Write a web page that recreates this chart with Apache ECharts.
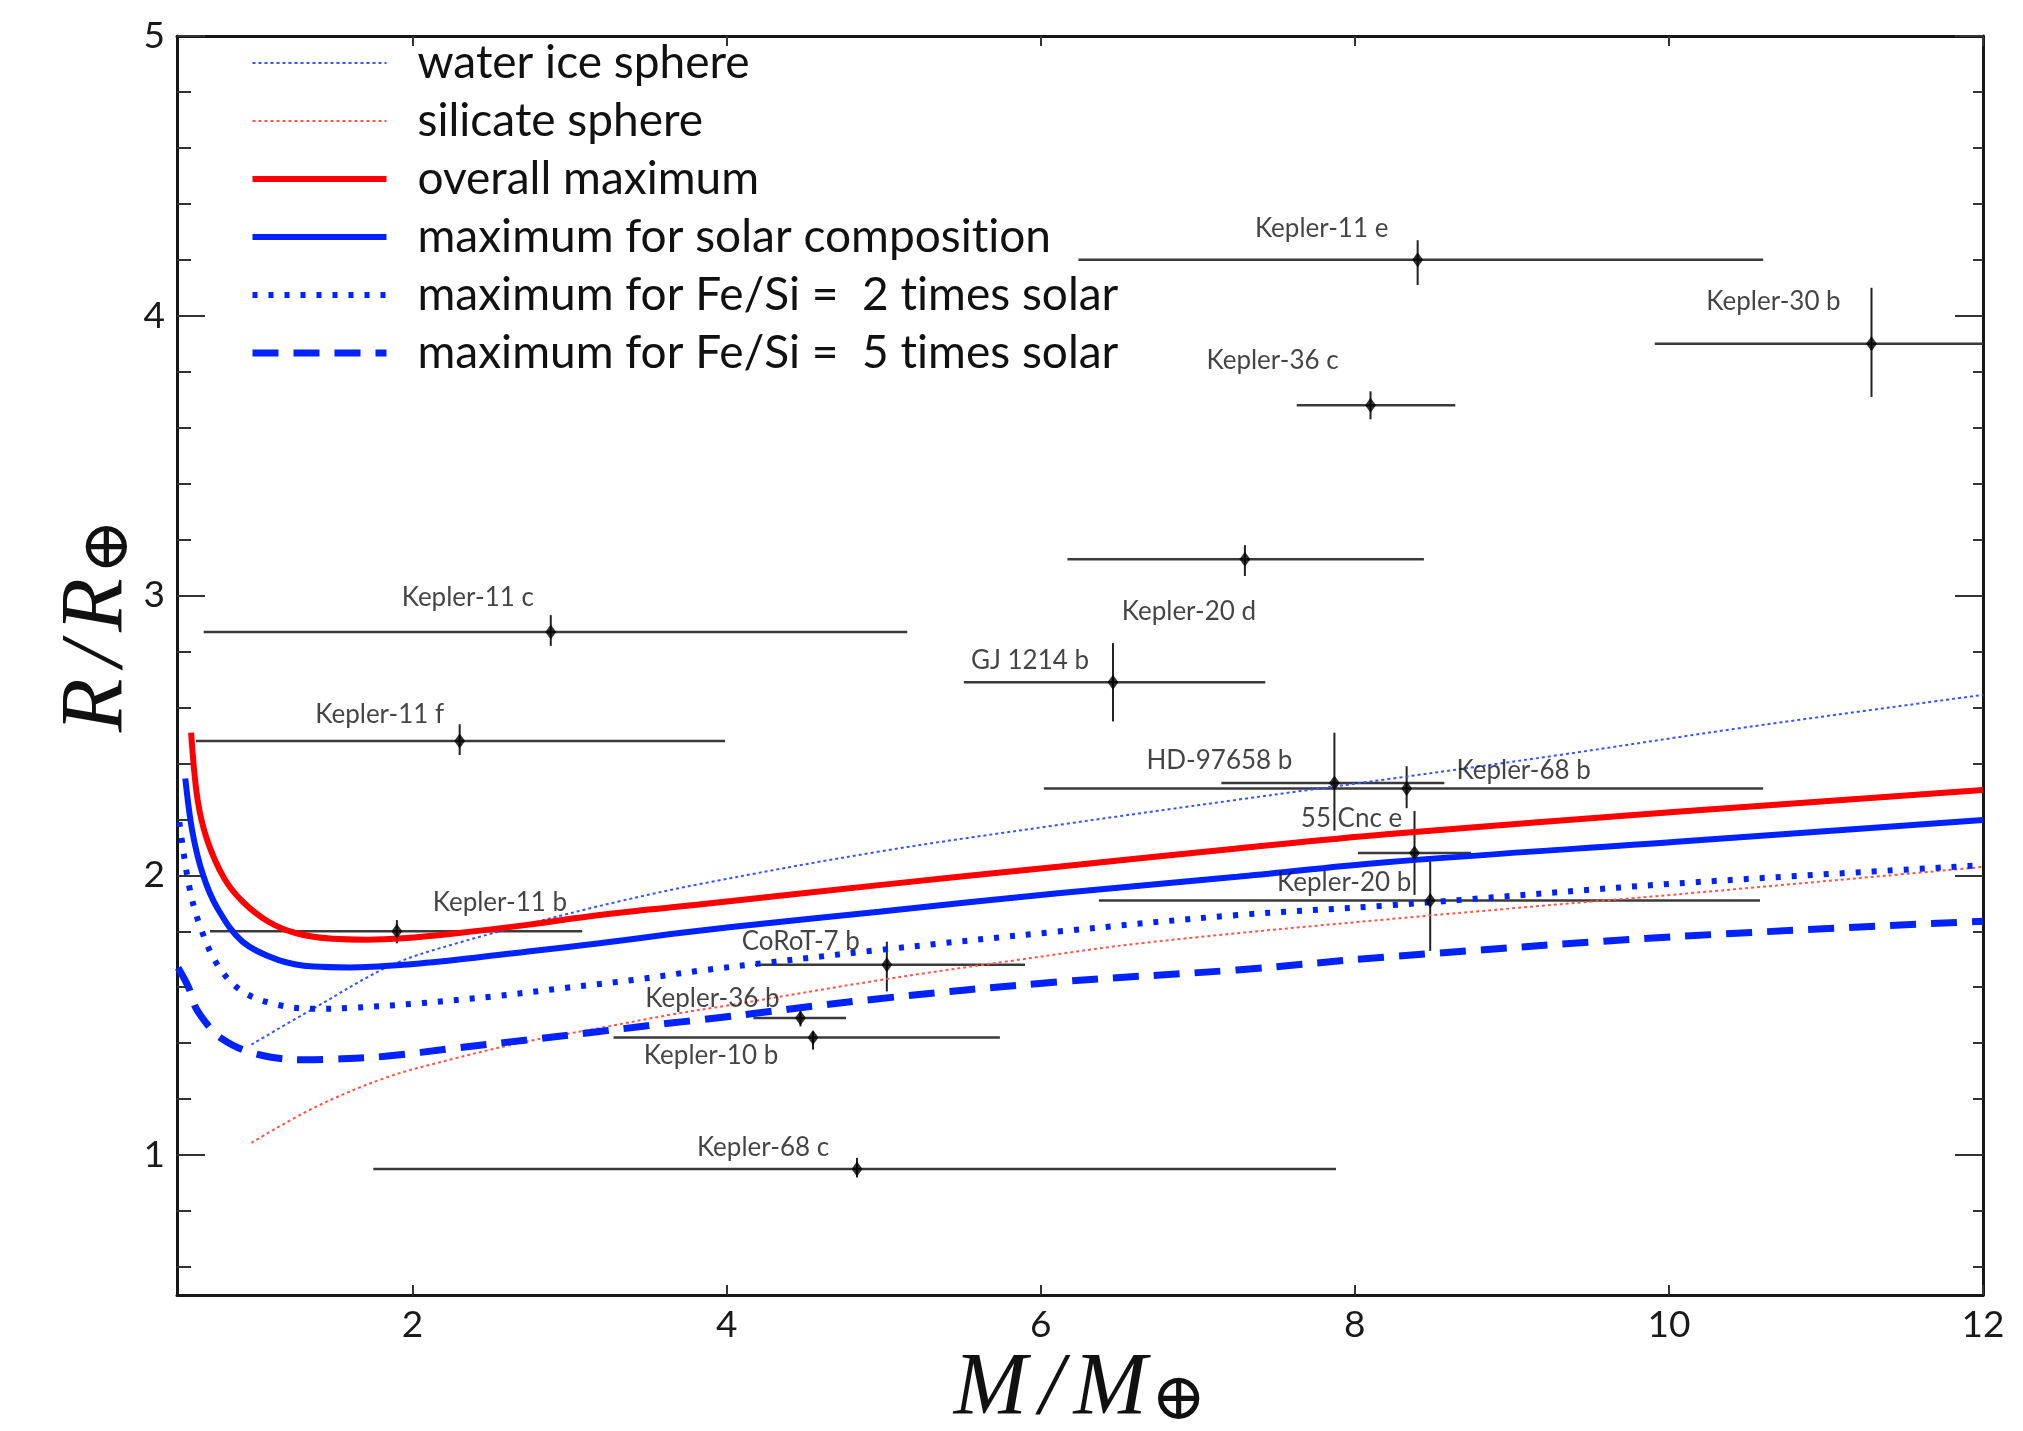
<!DOCTYPE html>
<html>
<head>
<meta charset="utf-8">
<title>Mass-radius diagram</title>
<script src="https://cdn.jsdelivr.net/npm/echarts@6.0.0/dist/echarts.min.js"></script>
<style>
  html, body { margin: 0; padding: 0; background: #fff; }
  #chart { width: 2023px; height: 1431px; }
</style>
</head>
<body>
<div id="chart"></div>
<script>
// ---- data (mass in M_earth, radius in R_earth) ----
const xTicks = [2, 4, 6, 8, 10, 12];
const yTicks = [1, 2, 3, 4, 5];
const yMinorTicks = [0.6, 0.8, 1.2, 1.4, 1.6, 1.8, 2.2, 2.4, 2.6, 2.8, 3.2, 3.4, 3.6, 3.8, 4.2, 4.4, 4.6, 4.8];

const waterX = [0.974, 1.372, 1.87, 2.3, 2.8, 3.3, 3.84, 4.97, 6.11, 7.25, 8.29, 9.3, 10.5, 12.0];
const waterY = [1.395, 1.525, 1.68, 1.76, 1.835, 1.905, 1.97, 2.085, 2.18, 2.27, 2.35, 2.43, 2.53, 2.645];

const silicateX = [0.974, 1.372, 1.826, 2.28, 2.735, 3.19, 3.645, 4.03, 4.97, 5.82, 6.68, 8.29, 10.05, 12.0];
const silicateY = [1.044, 1.169, 1.276, 1.347, 1.407, 1.454, 1.502, 1.537, 1.625, 1.695, 1.76, 1.847, 1.932, 2.03];

const overallX = [0.59, 0.63, 0.69, 0.80, 0.92, 1.08, 1.26, 1.49, 1.71, 1.94, 2.28, 2.73, 3.19, 3.65, 4.03, 4.97, 6.11, 7.25, 8.20, 10.05, 12.0];
const overallY = [2.51, 2.275, 2.13, 1.99, 1.905, 1.835, 1.793, 1.773, 1.77, 1.775, 1.793, 1.823, 1.858, 1.886, 1.908, 1.965, 2.031, 2.096, 2.147, 2.227, 2.305];

const solarX = [0.553, 0.598, 0.666, 0.758, 0.917, 1.143, 1.372, 1.60, 1.94, 2.28, 2.735, 3.19, 3.645, 4.03, 4.97, 6.11, 7.25, 8.20, 10.05, 12.0];
const solarY = [2.346, 2.156, 2.001, 1.882, 1.763, 1.698, 1.674, 1.671, 1.68, 1.698, 1.728, 1.757, 1.79, 1.815, 1.87, 1.936, 1.995, 2.047, 2.12, 2.198];

const fe2X = [0.515, 0.576, 0.644, 0.758, 0.917, 1.143, 1.372, 1.60, 2.05, 2.51, 2.963, 3.418, 3.84, 4.97, 6.11, 7.25, 8.20, 10.05, 12.0];
const fe2Y = [2.19, 1.965, 1.823, 1.68, 1.585, 1.537, 1.523, 1.526, 1.543, 1.567, 1.597, 1.627, 1.66, 1.733, 1.799, 1.858, 1.892, 1.971, 2.036];

const fe5X = [0.507, 0.576, 0.62, 0.712, 0.78, 0.917, 1.1, 1.3, 1.5, 1.826, 2.28, 2.735, 3.19, 3.645, 3.84, 4.97, 6.11, 7.25, 8.20, 10.05, 12.0];
const fe5Y = [1.67, 1.597, 1.526, 1.454, 1.418, 1.377, 1.35, 1.341, 1.343, 1.353, 1.383, 1.412, 1.442, 1.472, 1.484, 1.559, 1.619, 1.662, 1.708, 1.781, 1.836];

const planetNames = ['Kepler-11 e', 'Kepler-30 b', 'Kepler-36 c', 'Kepler-20 d', 'Kepler-11 c', 'Kepler-11 f',
  'GJ 1214 b', 'HD-97658 b', 'Kepler-68 b', '55 Cnc e', 'Kepler-20 b', 'Kepler-11 b', 'CoRoT-7 b',
  'Kepler-36 b', 'Kepler-10 b', 'Kepler-68 c'];
const planetMass   = [8.40, 11.29, 8.10, 7.30, 2.88, 2.30, 6.46, 7.87, 8.33, 8.38, 8.48, 1.90, 5.02, 4.47, 4.55, 4.83];
const planetMassLo = [6.24, 9.91, 7.63, 6.17, 0.67, 0.62, 5.51, 7.15, 6.02, 8.02, 6.37, 0.71, 4.18, 4.17, 3.28, 1.75];
const planetMassHi = [10.60, 12.6, 8.64, 8.44, 5.15, 3.99, 7.43, 8.57, 10.60, 8.74, 10.58, 3.08, 5.90, 4.76, 5.74, 7.88];
const planetRad    = [4.20, 3.90, 3.68, 3.13, 2.87, 2.48, 2.69, 2.33, 2.31, 2.08, 1.91, 1.80, 1.68, 1.49, 1.42, 0.95];
const planetRadLo  = [4.11, 3.71, 3.63, 3.07, 2.82, 2.43, 2.55, 2.16, 2.24, 1.93, 1.73, 1.757, 1.585, 1.46, 1.377, 0.92];
const planetRadHi  = [4.27, 4.10, 3.73, 3.18, 2.93, 2.54, 2.83, 2.51, 2.39, 2.23, 2.05, 1.84, 1.763, 1.514, 1.442, 0.99];

// label placement (pixels, relative to the point)
const labelOffsets = {
  'Kepler-11 e': [-96, -31], 'Kepler-30 b': [-98, -42], 'Kepler-36 c': [-98, -45], 'Kepler-20 d': [-56, 52],
  'Kepler-11 c': [-83, -34], 'Kepler-11 f': [-80, -26], 'GJ 1214 b': [-83, -22], 'HD-97658 b': [-115, -22],
  'Kepler-68 b': [117, -18], '55 Cnc e': [-63, -34], 'Kepler-20 b': [-86, -18], 'Kepler-11 b': [103, -29],
  'CoRoT-7 b': [-86, -23], 'Kepler-36 b': [-88, -19], 'Kepler-10 b': [-102, 18], 'Kepler-68 c': [-94, -21]
};

const RED = '#ff0000';
const BLUE = '#0022ff';
const FRAME = '#161616';

const pairs = (xs, ys) => xs.map((x, i) => [x, ys[i]]);

function curve(name, xs, ys, color, width, type) {
  return {
    name: name,
    type: 'line',
    data: pairs(xs, ys),
    symbol: 'none',
    smooth: 0.35,
    silent: true,
    z: 3,
    itemStyle: { color: color },
    lineStyle: { color: color, width: width, type: type, cap: 'butt' }
  };
}

const curves = [
  { name: 'water ice sphere', x: waterX, y: waterY, color: '#3355ff', width: 2, type: [3, 3] },
  { name: 'silicate sphere', x: silicateX, y: silicateY, color: '#ff5544', width: 2, type: [3, 3] },
  { name: 'overall maximum', x: overallX, y: overallY, color: RED, width: 6, type: 'solid' },
  { name: 'maximum for solar composition', x: solarX, y: solarY, color: BLUE, width: 6, type: 'solid' },
  { name: 'maximum for Fe/Si =  2 times solar', x: fe2X, y: fe2Y, color: BLUE, width: 6, type: [5, 11] },
  { name: 'maximum for Fe/Si =  5 times solar', x: fe5X, y: fe5Y, color: BLUE, width: 7, type: [26, 15] }
];

const errorData = planetNames.map((n, i) => [planetMass[i], planetRad[i], planetMassLo[i], planetMassHi[i], planetRadLo[i], planetRadHi[i]]);

const pointData = planetNames.map((n, i) => ({
  name: n,
  value: [planetMass[i], planetRad[i]],
  label: { offset: labelOffsets[n] }
}));

const tickFont = { fontSize: 37, fontFamily: 'Lato', color: '#1a1a1a' };

// math-style axis titles: italic serif with a subscripted ⊕
const mathRich = {
  m: { fontSize: 88, fontFamily: 'Liberation Serif', fontStyle: 'italic', color: '#111', lineHeight: 90 },
  sl: { fontSize: 88, fontFamily: 'Liberation Serif', fontStyle: 'italic', color: '#111', lineHeight: 90, padding: [0, 10, 0, 12] },
  s: { fontSize: 66, fontFamily: 'DejaVu Serif', color: '#111', lineHeight: 30, verticalAlign: 'bottom', padding: [0, 0, 0, 4] }
};

function yAxisDef(pos, values, len, withLine, withLabel) {
  return {
    type: 'value', min: 0.5, max: 5, position: pos,
    axisLine: { show: withLine, onZero: false, lineStyle: { color: FRAME, width: 3 } },
    axisTick: { show: true, inside: true, length: len, customValues: values, lineStyle: { color: '#333', width: 2 } },
    axisLabel: Object.assign({ show: withLabel, customValues: values, margin: 12 }, tickFont),
    splitLine: { show: false }
  };
}

const yMain = yAxisDef('left', yTicks, 28, true, true);
yMain.name = '{pad|}{m|R}{sl|/}{m|R}{s|\u2295}';
yMain.nameLocation = 'middle';
yMain.nameGap = 34;
yMain.nameMoveOverlap = false;
yMain.nameTextStyle = {
  rich: Object.assign({ pad: { width: 80, lineHeight: 90 } }, mathRich)
};

const option = {
  backgroundColor: '#fff',
  animation: false,
  grid: { left: 177, right: 40, top: 36, bottom: 136, outerBoundsMode: 'none' },
  legend: {
    data: curves.map(c => ({
      name: c.name,
      lineStyle: { color: c.color, width: c.width, type: c.type, cap: 'butt' }
    })),
    orient: 'vertical',
    left: 249,
    top: 40,
    padding: 0,
    itemWidth: 134,
    itemHeight: 14,
    itemGap: 12,
    selectedMode: false,
    itemStyle: { opacity: 0 },
    // break Lato's "ti" ligature so the words look like the original
    formatter: n => '{t|' + n.replace(/ti/g, 't\u200Ci') + '}',
    textStyle: {
      rich: { t: { fontSize: 46, fontFamily: 'Lato', color: '#111', lineHeight: 44, padding: [0, 0, 0, 26] } }
    }
  },
  xAxis: [
    {
      type: 'value', min: 0.5, max: 12, position: 'bottom',
      axisLine: { show: true, onZero: false, lineStyle: { color: FRAME, width: 3 } },
      axisTick: { show: true, inside: true, length: 10, customValues: xTicks, lineStyle: { color: '#333', width: 2 } },
      axisLabel: Object.assign({ customValues: xTicks, margin: 12 }, tickFont),
      splitLine: { show: false },
      name: '{m|M}{sl|/}{m|M}{s|\u2295}',
      nameLocation: 'middle',
      nameGap: 50,
      nameMoveOverlap: false,
      nameTextStyle: { rich: mathRich }
    },
    {
      type: 'value', min: 0.5, max: 12, position: 'top',
      axisLine: { show: true, onZero: false, lineStyle: { color: FRAME, width: 3 } },
      axisTick: { show: true, inside: true, length: 10, customValues: xTicks, lineStyle: { color: '#333', width: 2 } },
      axisLabel: { show: false },
      splitLine: { show: false }
    }
  ],
  yAxis: [
    yMain,
    yAxisDef('left', yMinorTicks, 14, false, false),
    yAxisDef('right', yTicks, 28, true, false),
    yAxisDef('right', yMinorTicks, 10, false, false)
  ],
  series: [
    {
      name: 'error bars',
      type: 'custom',
      clip: true,
      silent: true,
      z: 2,
      data: errorData,
      encode: { x: [0, 2, 3], y: [1, 4, 5] },
      renderItem: function (params, api) {
        const m = api.value(0), r = api.value(1);
        const h1 = api.coord([api.value(2), r]);
        const h2 = api.coord([api.value(3), r]);
        const v1 = api.coord([m, api.value(4)]);
        const v2 = api.coord([m, api.value(5)]);
        return {
          type: 'group',
          children: [
            { type: 'line', shape: { x1: h1[0], y1: h1[1], x2: h2[0], y2: h2[1] }, style: { stroke: '#3a3a3a', lineWidth: 2.5 } },
            { type: 'line', shape: { x1: v1[0], y1: v1[1], x2: v2[0], y2: v2[1] }, style: { stroke: '#222', lineWidth: 2 } }
          ]
        };
      }
    },
    ...curves.map(c => curve(c.name, c.x, c.y, c.color, c.width, c.type)),
    {
      name: 'planets',
      type: 'scatter',
      symbol: 'diamond',
      symbolSize: [11, 15],
      silent: true,
      z: 4,
      itemStyle: { color: '#000' },
      data: pointData,
      label: {
        show: true,
        position: 'inside',
        formatter: '{b}',
        fontSize: 26,
        fontFamily: 'Lato',
        color: '#151515'
      }
    }
  ]
};

const chart = echarts.init(document.getElementById('chart'));
chart.setOption(option);
</script>
</body>
</html>
